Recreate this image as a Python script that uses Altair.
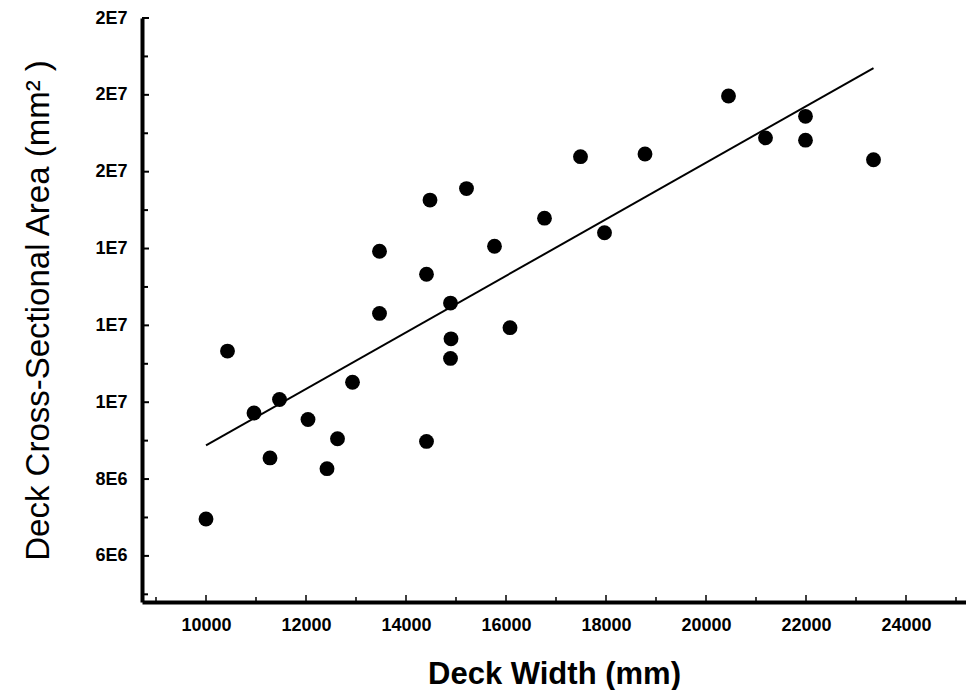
import altair as alt
import pandas as pd

# Data
deck_width = [10000, 10430, 10960, 11470, 11280, 12040, 12630, 12420, 12930,
              13470, 13470, 14410, 14480, 14410, 14890, 14900, 14890, 15210,
              15770, 16080, 16770, 17490, 17970, 18780, 20450, 21190, 21990,
              21990, 23350]
deck_area = [6.96e6, 1.133e7, 9.72e6, 1.007e7, 8.55e6, 9.55e6, 9.05e6, 8.27e6,
             1.052e7, 1.393e7, 1.231e7, 8.98e6, 1.526e7, 1.333e7, 1.258e7,
             1.165e7, 1.114e7, 1.556e7, 1.406e7, 1.194e7, 1.479e7, 1.639e7,
             1.441e7, 1.646e7, 1.797e7, 1.688e7, 1.744e7, 1.682e7, 1.631e7]

x_ticks = [10000, 12000, 14000, 16000, 18000, 20000, 22000, 24000]
x_minor = [9000, 11000, 13000, 15000, 17000, 19000, 21000, 23000, 25000]
y_ticks = [6e6, 8e6, 1e7, 1.2e7, 1.4e7, 1.6e7, 1.8e7, 2e7]
y_labels = ["6E6", "8E6", "1E7", "1E7", "1E7", "2E7", "2E7", "2E7"]
y_minor = [5e6, 7e6, 9e6, 1.1e7, 1.3e7, 1.5e7, 1.7e7, 1.9e7]

x_domain = [8720, 25200]
y_domain = [4.8e6, 2.0e7]

W, H = 824, 584
FONT = "Liberation Sans"

df = pd.DataFrame({"w": deck_width, "a": deck_area})

xs = alt.Scale(domain=x_domain, nice=False, zero=False)
ys = alt.Scale(domain=y_domain, nice=False, zero=False)

label_expr = "[" + ",".join(f"'{l}'" for l in y_labels) + "][round((datum.value - 6000000) / 2000000)]"

x_axis = alt.Axis(
    values=x_ticks, format="d", ticks=False, grid=False,
    domainColor="black", domainWidth=4,
    labelFont=FONT, labelFontSize=18, labelFontWeight="bold", labelColor="black",
    labelPadding=14,
    title="Deck Width (mm)", titleFont=FONT, titleFontSize=31,
    titleFontWeight="bold", titleColor="black",
    titleY=72, titleBaseline="middle",
)
y_axis = alt.Axis(
    values=y_ticks, labelExpr=label_expr, ticks=False, grid=False,
    domainColor="black", domainWidth=4,
    labelFont=FONT, labelFontSize=18, labelFontWeight="bold", labelColor="black",
    labelPadding=15,
    title="Deck Cross-Sectional Area (mm² )", titleFont=FONT, titleFontSize=33,
    titleFontWeight="normal", titleColor="black",
    titleX=-104, titleBaseline="middle",
)

points = alt.Chart(df).mark_circle(size=220, color="black", opacity=1).encode(
    x=alt.X("w:Q", scale=xs, axis=x_axis),
    y=alt.Y("a:Q", scale=ys, axis=y_axis),
)

fit = alt.Chart(df).transform_regression("w", "a").mark_line(
    color="black", strokeWidth=2
).encode(
    x=alt.X("w:Q", scale=xs),
    y=alt.Y("a:Q", scale=ys),
)

ytick_df = pd.DataFrame({"a": y_ticks})
yminor_df = pd.DataFrame({"a": y_minor})
xtick_df = pd.DataFrame({"w": x_ticks})
xminor_df = pd.DataFrame({"w": x_minor})

y_major = alt.Chart(ytick_df).mark_rule(color="black", strokeWidth=2).encode(
    y=alt.Y("a:Q", scale=ys), x=alt.value(0), x2=alt.value(7))
y_min = alt.Chart(yminor_df).mark_rule(color="black", strokeWidth=2).encode(
    y=alt.Y("a:Q", scale=ys), x=alt.value(0), x2=alt.value(6))
x_major = alt.Chart(xtick_df).mark_rule(color="black", strokeWidth=1.5).encode(
    x=alt.X("w:Q", scale=xs), y=alt.value(H), y2=alt.value(H - 7))
x_min = alt.Chart(xminor_df).mark_rule(color="black", strokeWidth=1.5).encode(
    x=alt.X("w:Q", scale=xs), y=alt.value(H), y2=alt.value(H - 5))

chart = alt.layer(points, fit, y_major, y_min, x_major, x_min).properties(
    width=W, height=H,
    autosize=alt.AutoSizeParams(type="none"),
    padding={"left": 134, "top": 10, "right": 0, "bottom": 88},
    background="white",
).configure_view(stroke=None)

chart.save("out.html", embed_options={"renderer": "svg", "actions": False})
